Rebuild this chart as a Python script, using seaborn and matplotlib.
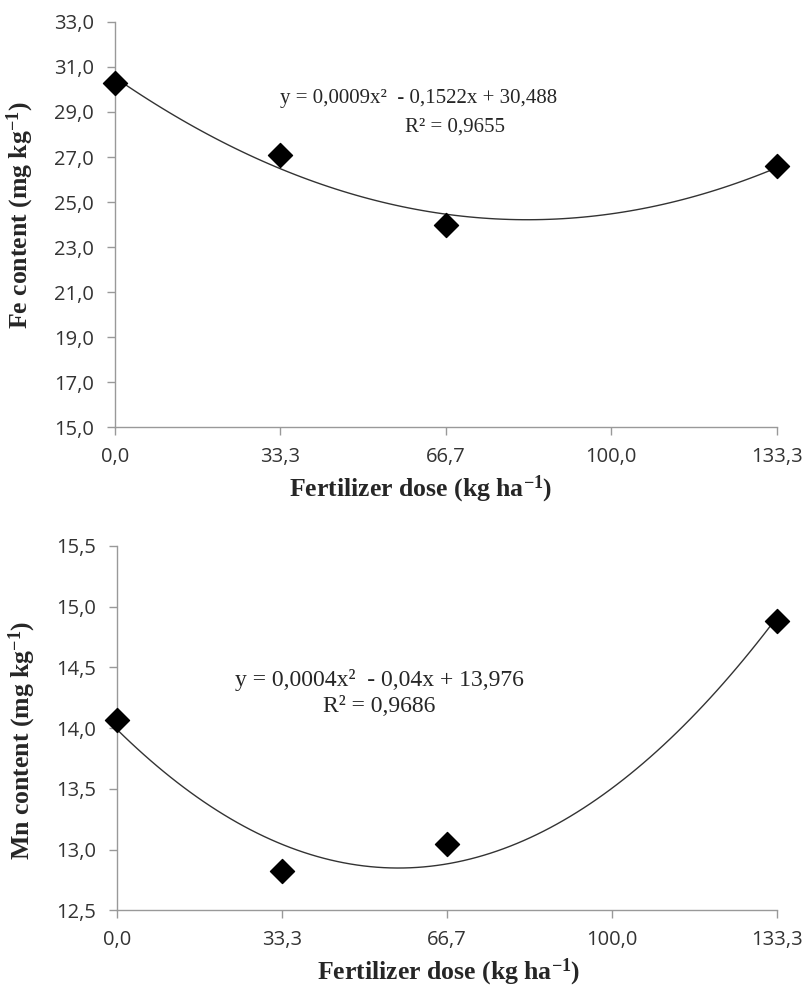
import numpy as np
import pandas as pd
import seaborn as sns
import matplotlib.pyplot as plt

# Werte
dose = [0.0, 33.3, 66.7, 133.3]
fe_content = [30.3, 27.1, 24.0, 26.6]
mn_content = [14.07, 12.82, 13.05, 14.88]

x_ticks = [0.0, 33.3, 66.7, 100.0, 133.3]
x_ticklabels = ['0,0', '33,3', '66,7', '100,0', '133,3']
fe_ticks = [15, 17, 19, 21, 23, 25, 27, 29, 31, 33]
fe_ticklabels = ['15,0', '17,0', '19,0', '21,0', '23,0', '25,0', '27,0', '29,0', '31,0', '33,0']
mn_ticks = [12.5, 13.0, 13.5, 14.0, 14.5, 15.0, 15.5]
mn_ticklabels = ['12,5', '13,0', '13,5', '14,0', '14,5', '15,0', '15,5']

fe_eq = ['y = 0,0009x²  - 0,1522x + 30,488', 'R² = 0,9655']
mn_eq = ['y = 0,0004x²  - 0,04x + 13,976', 'R² = 0,9686']

sns.set_style('ticks')
plt.rcParams['font.family'] = ['Liberation Serif', 'DejaVu Serif']
plt.rcParams['mathtext.default'] = 'regular'

df = pd.DataFrame({'dose': dose, 'fe': fe_content, 'mn': mn_content})

fig = plt.figure(figsize=(8.09, 9.96), dpi=100)
ax1 = fig.add_axes([0.142, 0.571, 0.818, 0.407])
ax2 = fig.add_axes([0.145, 0.086, 0.815, 0.366])

tick_font = {'family': 'Open Sans', 'size': 14.5}
label_font = {'family': 'Liberation Serif', 'size': 18.5, 'weight': 'bold'}


def style_panel(ax, col, yticks, ylabels, ylabel, xlabel_x, ylabel_y):
    sns.regplot(data=df, x='dose', y=col, order=2, ci=None, scatter=False, ax=ax,
                line_kws={'color': '#333333', 'linewidth': 1.0})
    sns.scatterplot(data=df, x='dose', y=col, marker='D', s=150, color='black',
                    edgecolor='black', ax=ax, zorder=5, clip_on=False)
    ax.set_xlim(0, 133.3)
    ax.set_ylim(yticks[0], yticks[-1])
    ax.set_xticks(x_ticks)
    ax.set_xticklabels(x_ticklabels, fontdict=tick_font)
    ax.set_yticks(yticks)
    ax.set_yticklabels(ylabels, fontdict=tick_font)
    for s in ['top', 'right']:
        ax.spines[s].set_visible(False)
    for s in ['left', 'bottom']:
        ax.spines[s].set_color('#999999')
        ax.spines[s].set_linewidth(1.0)
    ax.tick_params(color='#999999', length=6, width=1.0, colors='#333333', pad=8)
    ax.tick_params(axis='y', pad=9)
    ax.set_xlabel('Fertilizer dose (kg ha$^{-1}$)', fontdict=label_font, labelpad=5)
    ax.xaxis.label.set_x(xlabel_x)
    ax.set_ylabel(ylabel, fontdict=label_font, labelpad=13)
    ax.yaxis.label.set_y(ylabel_y)


style_panel(ax1, 'fe', fe_ticks, fe_ticklabels, 'Fe content (mg kg$^{-1}$)', 0.462, 0.524)
style_panel(ax2, 'mn', mn_ticks, mn_ticklabels, 'Mn content (mg kg$^{-1}$)', 0.503, 0.467)

# Gleichungen der Trendlinien
ax1.text(61.2, 29.40, fe_eq[0], ha='center', va='baseline', fontsize=15)
ax1.text(68.5, 28.11, fe_eq[1], ha='center', va='baseline', fontsize=15)
ax2.text(52.9, 14.345, mn_eq[0], ha='center', va='baseline', fontsize=17)
ax2.text(52.9, 14.13, mn_eq[1], ha='center', va='baseline', fontsize=17)

fig.savefig('out.png', dpi=100)
